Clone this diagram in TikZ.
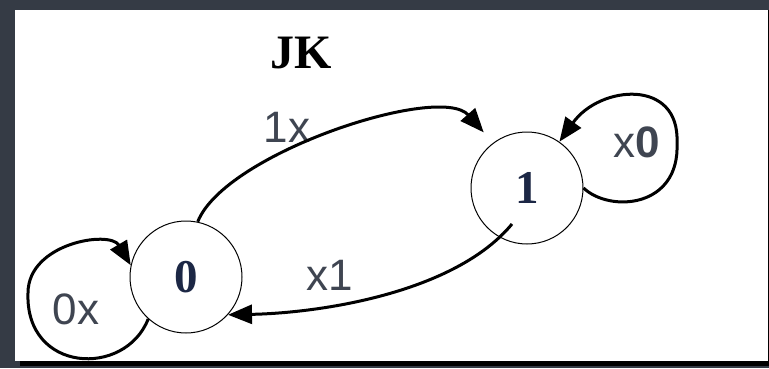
\documentclass[tikz,border=0pt]{standalone}
\usepackage{fontspec}
\setmainfont{Liberation Serif}
\setsansfont{Liberation Sans}
\usetikzlibrary{arrows.meta}
\definecolor{framegray}{HTML}{353B45}
\definecolor{labelgray}{HTML}{3F4551}
\definecolor{digitnavy}{HTML}{1C2745}
\tikzset{
  statenode/.style={circle, draw=black, line width=1pt, minimum size=112pt, inner sep=0pt,
    font=\bfseries\fontsize{47}{47}\selectfont, text=digitnavy},
  edge/.style={line width=3pt, black, -{Triangle[length=24pt,width=19pt]}},
  lbl/.style={font=\sffamily\fontsize{44}{44}\selectfont, text=labelgray, inner sep=0pt},
  titlelbl/.style={font=\bfseries\fontsize{48}{48}\selectfont, text=black, inner sep=0pt}
}
\begin{document}
\begin{tikzpicture}[x=1pt,y=1pt]
\useasboundingbox (0,0) rectangle (769,368);
% frame
\fill[framegray] (0,0) rectangle (769,368);
\fill[white] (15,7) rectangle (768,358);
\fill[black] (20,2) rectangle (769,7);
\fill[black] (768,2) rectangle (769,358);
% states
\node[statenode] (n0) at (186,91) {0};
\node[statenode] (n1) at (527,180) {1};
\coordinate (s1) at (512,144);
% texts
\node[titlelbl] (jk) at (301,315) {JK};
\node[lbl] (l1x) at (287,241) {1x};
\node[lbl] (lx1) at (330,93) {x1};
\node[lbl] (l0x) at (76,59) {0x};
\node[lbl] (lx0) at (637,226) {x\textbf{0}};
% transitions
\draw[edge, shorten >=14pt] (n0.78) .. controls (225,215) and (440,285) .. (n1.127);
\draw[edge] (s1) .. controls (455,75) and (320,55) .. (n0.318);
\draw[edge] (n0.228) .. controls (125,-10) and (25,-5) .. (28,75)
                     .. controls (28,125) and (110,138) .. (n0.168);
\draw[edge] (n1.0) .. controls (610,155) and (680,160) .. (677,225)
                   .. controls (680,290) and (600,283) .. (n1.55);
\end{tikzpicture}
\end{document}
